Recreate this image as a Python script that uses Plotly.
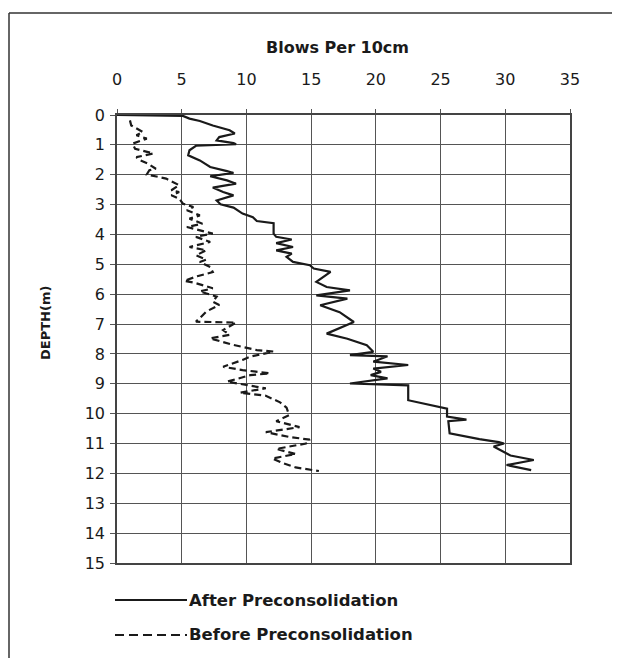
import plotly.graph_objects as go

# ---- data ----
after_depth = [0, 0.03, 0.12, 0.2, 0.35, 0.51, 0.62, 0.74, 0.85, 0.94, 0.98, 1.03, 1.18, 1.35, 1.52,
               1.74, 1.88, 1.94, 2.05, 2.19, 2.3, 2.43, 2.58, 2.69, 2.86, 2.99, 3.1, 3.3, 3.42, 3.55,
               3.62, 3.97, 4.08, 4.17, 4.29, 4.42, 4.53, 4.64, 4.75, 4.92, 5.03, 5.14, 5.25, 5.59, 5.76,
               5.87, 6.04, 6.15, 6.37, 6.6, 6.93, 7.32, 7.49, 7.71, 7.93, 8.04, 8.08, 8.26, 8.37, 8.49,
               8.6, 8.71, 8.82, 8.99, 9.05, 9.55, 9.83, 10.1, 10.2, 10.25, 10.66, 10.8, 10.85, 10.95,
               11.0, 11.1, 11.28, 11.4, 11.55, 11.72, 11.89]
after_blows = [0, 5.1, 5.6, 6.4, 7.4, 8.7, 9.1, 7.9, 7.7, 9.0, 9.2, 6.1, 5.6, 5.5, 6.4,
               7.2, 8.5, 9.0, 7.2, 8.5, 9.2, 7.4, 8.2, 9.0, 7.7, 8.0, 9.0, 9.7, 10.5, 10.8,
               12.1, 12.1, 12.3, 13.5, 12.3, 13.6, 12.3, 13.5, 13.1, 13.6, 14.9, 15.2, 16.5, 15.4, 16.2,
               18.0, 15.4, 17.8, 15.7, 17.2, 18.3, 16.2, 17.8, 19.3, 19.8, 18.0, 20.9, 19.8, 22.5, 19.8,
               20.4, 19.6, 20.9, 18.0, 22.5, 22.5, 25.5, 25.5, 27.0, 25.6, 25.7, 27.3, 28.0, 29.5,
               29.9, 29.1, 29.9, 30.4, 32.2, 30.1, 32.0]

before_depth = [0.18, 0.35, 0.57, 0.68, 0.79, 0.96, 1.13, 1.29, 1.41, 1.52, 1.63, 1.8, 1.85, 1.99,
                2.13, 2.24, 2.35, 2.52, 2.58, 2.69, 2.8, 2.97, 3.08, 3.19, 3.36, 3.47, 3.64, 3.75,
                3.97, 4.08, 4.25, 4.42, 4.53, 4.7, 4.84, 4.92, 5.09, 5.26, 5.4, 5.55, 5.62, 5.8,
                5.91, 6.08, 6.25, 6.36, 6.58, 6.8, 6.92, 6.95, 7.2, 7.36, 7.48, 7.7, 7.87, 7.92,
                8.09, 8.2, 8.43, 8.54, 8.65, 8.71, 8.93, 9.04, 9.15, 9.3, 9.4, 9.62, 9.8, 10.05,
                10.25, 10.45, 10.62, 10.78, 10.87, 11.0, 11.18, 11.35, 11.5, 11.65, 11.8, 11.92]
before_blows = [1.0, 1.1, 2.0, 1.5, 2.3, 1.2, 1.4, 2.8, 1.5, 1.8, 2.4, 3.0, 2.5, 2.3,
                3.8, 4.3, 4.8, 4.2, 4.8, 4.2, 4.8, 5.1, 5.9, 5.4, 6.4, 5.6, 6.6, 5.4,
                7.4, 6.1, 7.2, 5.6, 6.9, 6.1, 6.9, 6.4, 7.2, 7.4, 6.2, 5.2, 6.0, 7.4,
                6.4, 7.7, 7.4, 7.9, 6.9, 6.4, 6.1, 9.2, 8.2, 8.7, 7.2, 9.0, 10.8, 12.1,
                10.3, 9.7, 8.2, 9.7, 11.8, 10.3, 8.5, 10.0, 11.5, 9.5, 11.5, 12.6, 13.1, 13.3,
                12.3, 14.1, 11.5, 13.3, 14.9, 14.6, 12.3, 13.8, 12.0, 12.8, 13.8, 15.6]

x_ticks = [0, 5, 10, 15, 20, 25, 30, 35]
y_ticks = list(range(0, 16))
x_title = "Blows Per 10cm"
y_title = "DEPTH(m)"
series_names = ["After Preconsolidation", "Before Preconsolidation"]

FONT = "DejaVu Sans"
INK = "#1a1a1a"
GRID = "#555555"

# the page body adds an 8px offset; work in screen pixels and subtract it
OFF = 8
FIG_W, FIG_H = 620 - OFF, 658 - OFF
# plot area on screen: x 117..570, y 115..563
SL, SR, ST, SB = 117, 570, 115, 563
L, R, T, B = SL - OFF, SR - OFF, ST - OFF, SB - OFF
W, H = R - L, B - T

def px(xs):
    return (xs - OFF - L) / W

def py(ys):
    return (B - (ys - OFF)) / H

fig = go.Figure()
fig.add_trace(go.Scatter(x=after_blows, y=after_depth, mode="lines", name=series_names[0],
                         line=dict(color=INK, width=2.2), showlegend=False))
fig.add_trace(go.Scatter(x=before_blows, y=before_depth, mode="lines", name=series_names[1],
                         line=dict(color=INK, width=2.2, dash="7px,4px"), showlegend=False))

fig.update_layout(
    width=FIG_W, height=FIG_H,
    margin=dict(l=L, r=FIG_W - R, t=T, b=FIG_H - B),
    paper_bgcolor="white", plot_bgcolor="white",
    font=dict(family=FONT, color=INK),
    xaxis=dict(side="top", range=[0, 35], tickvals=x_ticks, ticks="outside", ticklen=4,
               tickcolor=GRID, ticklabelstandoff=18, tickfont=dict(size=16, family=FONT, color=INK),
               showgrid=True, gridcolor=GRID, gridwidth=1.4, zeroline=False,
               showline=True, linecolor="#444", linewidth=1.5, mirror=True),
    yaxis=dict(range=[15, 0], tickvals=y_ticks, ticks="outside", ticklen=5,
               tickcolor=GRID, ticklabelstandoff=2, tickfont=dict(size=16, family=FONT, color=INK),
               showgrid=True, gridcolor=GRID, gridwidth=1.4, zeroline=False,
               showline=True, linecolor="#444", linewidth=1.5, mirror=True),
    showlegend=False,
)

annotations = [
    dict(text="<b>%s</b>" % x_title, x=px(337), y=py(47), xref="paper", yref="paper",
         showarrow=False, xanchor="center", yanchor="middle", font=dict(size=16, family=FONT, color=INK)),
    dict(text="<b>%s</b>" % y_title, x=px(45), y=py(323), xref="paper", yref="paper",
         showarrow=False, xanchor="center", yanchor="middle", textangle=-90,
         font=dict(size=13, family=FONT, color=INK)),
    dict(text="<b>%s</b>" % series_names[0], x=px(187), y=py(600), xref="paper", yref="paper",
         showarrow=False, xanchor="left", yanchor="middle", font=dict(size=16.5, family=FONT, color=INK)),
    dict(text="<b>%s</b>" % series_names[1], x=px(187), y=py(634), xref="paper", yref="paper",
         showarrow=False, xanchor="left", yanchor="middle", font=dict(size=16.5, family=FONT, color=INK)),
]
fig.update_layout(annotations=annotations)

shapes = [
    # legend samples
    dict(type="line", xref="paper", yref="paper", x0=px(115), x1=px(187), y0=py(600), y1=py(600),
         line=dict(color=INK, width=2)),
    dict(type="line", xref="paper", yref="paper", x0=px(115), x1=px(187), y0=py(635), y1=py(635),
         line=dict(color=INK, width=2, dash="9px,5px")),
    # outer frame (left and top)
    dict(type="line", xref="paper", yref="paper", x0=px(9), x1=px(9), y0=py(13), y1=py(658),
         line=dict(color="#333", width=1.5)),
    dict(type="line", xref="paper", yref="paper", x0=px(9), x1=px(620), y0=py(13), y1=py(13),
         line=dict(color="#333", width=1.5)),
]
fig.update_layout(shapes=shapes)

fig.write_html("out.html", config={"displayModeBar": False})
